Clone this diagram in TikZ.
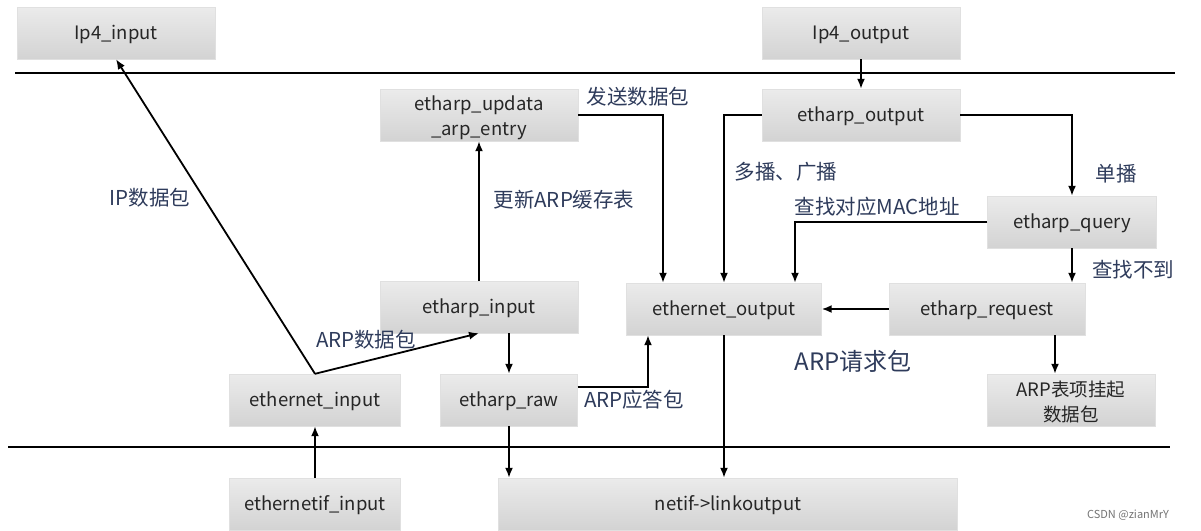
\documentclass[tikz,border=0pt]{standalone}
\usepackage{fontspec}
\setmainfont{Noto Sans CJK SC}
\usetikzlibrary{arrows.meta}
\definecolor{lblblue}{HTML}{2E3B5B}
\definecolor{boxtop}{HTML}{EBEBEB}
\definecolor{boxbot}{HTML}{D3D3D3}

\begin{document}
\begin{tikzpicture}[x=1pt,y=-1pt,
  box/.style={top color=boxtop,bottom color=boxbot,draw=black!12,inner sep=0pt,
    minimum height=52pt,align=center,text=black!85,font=\fontsize{18.5}{25}\selectfont},
  onebox/.style={box,text height=17pt,text depth=4pt},
  lbl/.style={inner sep=0pt,text=lblblue,font=\fontsize{20.5}{24}\selectfont},
  arr/.style={-{Latex[length=10pt,width=8pt]},line width=1.8pt}]
\useasboundingbox (0,0) rectangle (1201,530);

% layer lines
\draw[line width=2.6pt] (15,73) -- (1175,73);
\draw[line width=2.6pt] (8,447) -- (1170,447);

% boxes
\node[onebox,minimum width=198pt] (ip4in) at (116,33) {Ip4\_input};
\node[onebox,minimum width=198pt] (ip4out) at (861,33) {Ip4\_output};
\node[box,minimum width=198pt] (update) at (479,115) {\rule{0pt}{20pt}etharp\_updata\\\_arp\_entry};
\node[onebox,minimum width=198pt] (ethout) at (861,115) {etharp\_output};
\node[onebox,minimum width=169pt] (query) at (1072,222) {etharp\_query};
\node[onebox,minimum width=198pt] (ethinp) at (479,307) {etharp\_input};
\node[onebox,minimum width=195pt] (ethernetout) at (724,309) {ethernet\_output};
\node[onebox,minimum width=196pt] (request) at (987,309) {etharp\_request};
\node[onebox,minimum width=171pt] (ethernetin) at (315,400) {ethernet\_input};
\node[onebox,minimum width=137pt] (raw) at (509,400) {etharp\_raw};
\node[box,minimum width=168pt] (pending) at (1071,400) {\rule{0pt}{20pt}ARP表项挂起\\数据包};
\node[onebox,minimum width=171pt] (ethernetif) at (315,504) {ethernetif\_input};
\node[onebox,minimum width=459pt] (linkout) at (728,504) {netif->linkoutput};

% receive side
\draw[arr] (ethernetin.north) -- (ip4in.south);
\draw[arr] (ethernetin.north) -- (ethinp.south);
\draw[arr] (ethernetif.north) -- (ethernetin.south);
\draw[arr] (ethinp.north) -- (update.south);
\draw[arr] (ethinp.south -| raw) -- (raw.north);
\draw[arr] (raw.south) -- (raw.south |- linkout.north);
\draw[arr] ([yshift=13pt]raw.east) -| ([xshift=-76pt]ethernetout.south);

% send side
\draw[arr] (ip4out.south) -- (ethout.north);
\draw[arr] (update.east) -| ([xshift=-61pt]ethernetout.north);
\draw[arr] (ethout.west) -| (ethernetout.north);
\draw[arr] (ethout.east) -| (query.north);
\draw[arr] (query.west) -| ([xshift=71pt]ethernetout.north);
\draw[arr] (query.south) -- (query.south |- request.north);
\draw[arr] (request.west) -- (ethernetout.east);
\draw[arr] ([xshift=68pt]request.south) -- ([xshift=68pt]request.south |- pending.north);
\draw[arr] (ethernetout.south) -- (ethernetout.south |- linkout.north);

% labels
\node[lbl] (lip) at (150,198) {IP数据包};
\node[lbl] (lupd) at (564,200) {更新ARP缓存表};
\node[lbl] (lsend) at (638,97) {发送数据包};
\node[lbl] (lmulti) at (786,172) {多播、广播};
\node[lbl] (luni) at (1116,174) {单播};
\node[lbl] (lmac) at (877,207) {查找对应MAC地址};
\node[lbl] (lnot) at (1133,270) {查找不到};
\node[lbl] (larp) at (366,340) {ARP数据包};
\node[lbl] (lreply) at (634,400) {ARP应答包};
\node[lbl,font=\fontsize{24}{28}\selectfont] (lreq) at (853,361) {ARP请求包};
\node[inner sep=0pt,text=black!55,font=\fontsize{11}{13}\selectfont] (mark) at (1128,515) {CSDN @zianMrY};
\end{tikzpicture}
\end{document}
